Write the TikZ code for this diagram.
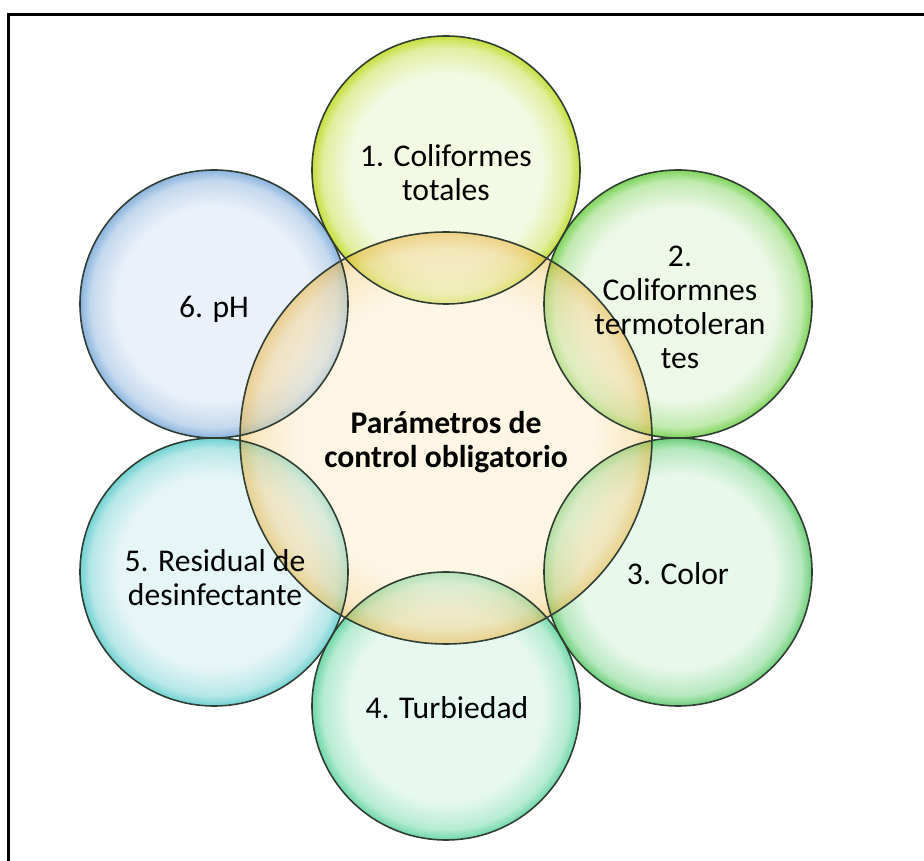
\documentclass[tikz,border=0pt]{standalone}
\usepackage{fontspec}
\setmainfont{Carlito}

% bubble colours: light inside, stronger towards the rim
\definecolor{rimcol}{HTML}{2F3D33}
\definecolor{limein}{HTML}{F3F9E2}
\definecolor{limeout}{HTML}{C6DE3A}
\definecolor{leafin}{HTML}{EDF8E8}
\definecolor{leafout}{HTML}{7ED55A}
\definecolor{grassin}{HTML}{E8F8EC}
\definecolor{grassout}{HTML}{6CD07A}
\definecolor{mintin}{HTML}{E6F8F0}
\definecolor{mintout}{HTML}{6ED8A8}
\definecolor{aquain}{HTML}{E6F5F6}
\definecolor{aquaout}{HTML}{70D2D2}
\definecolor{skyin}{HTML}{EBF1F9}
\definecolor{skyout}{HTML}{8AB4DE}
\definecolor{creamin}{HTML}{FBEDCB}
\definecolor{creamout}{HTML}{EAAE2E}

% radius of the bubble is 25bp in shading units
\newcommand{\bubshade}[3]{%
  \pgfdeclareradialshading{#1}{\pgfpoint{0bp}{0bp}}{%
    color(0bp)=(#2); color(18bp)=(#2); color(23bp)=(#3!40!#2);
    color(25bp)=(#3); color(50bp)=(#3)}}
\bubshade{limeshade}{limein}{limeout}
\bubshade{leafshade}{leafin}{leafout}
\bubshade{grassshade}{grassin}{grassout}
\bubshade{mintshade}{mintin}{mintout}
\bubshade{aquashade}{aquain}{aquaout}
\bubshade{skyshade}{skyin}{skyout}
\bubshade{creamshade}{creamin}{creamout}

\tikzset{
  bubble/.style={circle, minimum size=5.36cm, inner sep=0pt},
  core/.style={circle, minimum size=8.24cm, inner sep=0pt, fill opacity=0.5},
  rim/.style={draw=rimcol, line width=0.9pt},
  lbl/.style={align=center, inner sep=0pt, font=\fontsize{18}{19.3}\selectfont},
}

\begin{document}
\begin{tikzpicture}[x=0.02cm, y=-0.02cm]
    \useasboundingbox (0,0) rectangle (924,861);

    % Frame
    \draw[line width=1.7pt] (8.8,14.2) rectangle (940,880);

    % Outer bubbles
    \node[bubble, shading=limeshade] (b1) at (446,170) {};
    \node[bubble, shading=leafshade] (b2) at (678,304) {};
    \node[bubble, shading=grassshade] (b3) at (678,572) {};
    \node[bubble, shading=mintshade] (b4) at (446,706) {};
    \node[bubble, shading=aquashade] (b5) at (214,572) {};
    \node[bubble, shading=skyshade] (b6) at (214,304) {};

    % Middle bubble, see-through
    \node[core, shading=creamshade] (cen) at (446,438) {};

    % Rims
    \foreach \i in {1,...,6}
        \draw[rim] (b\i.center) circle[radius=134];
    \draw[rim] (cen.center) circle[radius=206];

    % Labels
    \node[lbl] (t1) at (446,173) {1. Coliformes\\totales};
    \node[lbl] (t2) at (680,307) {2.\\Coliformnes\\termotoleran\\tes};
    \node[lbl] (t3) at (678,574) {3. Color};
    \node[lbl] (t4) at (447,708) {4. Turbiedad};
    \node[lbl] (t5) at (215,578) {5. Residual de\\desinfectante};
    \node[lbl] (t6) at (214,309) {6. pH};
    \node[lbl, font=\fontsize{18}{19.3}\selectfont\bfseries] (tc) at (446,442)
        {Parámetros de\\control obligatorio};
\end{tikzpicture}
\end{document}
